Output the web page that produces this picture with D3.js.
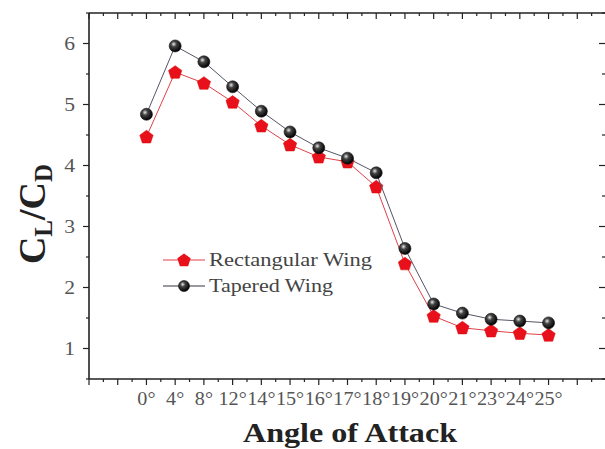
<!DOCTYPE html>
<html>
<head>
<meta charset="utf-8">
<script src="https://cdn.jsdelivr.net/npm/d3@7"></script>
<style>
  html, body { margin: 0; padding: 0; background: #fff; }
  svg { display: block; }
  text { font-family: "Liberation Serif", "Times New Roman", serif; }
</style>
</head>
<body>
<svg id="chart" width="605" height="449"></svg>
<script>
// Angles of attack (categorical, evenly spaced)
const angles = ["0°", "4°", "8°", "12°", "14°", "15°", "16°", "17°", "18°", "19°", "20°", "21°", "23°", "24°", "25°"];
// Lift-to-drag ratio per wing planform
const rectangular = [4.47, 5.53, 5.35, 5.04, 4.65, 4.34, 4.14, 4.06, 3.65, 2.39, 1.53, 1.34, 1.29, 1.25, 1.22];
const tapered     = [4.84, 5.96, 5.70, 5.29, 4.89, 4.55, 4.29, 4.12, 3.88, 2.64, 1.73, 1.58, 1.48, 1.45, 1.42];
const yTicks = [1, 2, 3, 4, 5, 6];
const seriesNames = ["Rectangular Wing", "Tapered Wing"];

const svg = d3.select("#chart");
const plotLeft = 89, plotRight = 606, plotTop = 13, plotBottom = 379;

// Category index on a linear scale, with two empty slots before the first angle
const x = d3.scaleLinear().domain([-2, 16]).range([plotLeft, plotRight]);
const y = d3.scaleLinear().domain([0.5, 6.5]).range([plotBottom, plotTop]);

const axisColor = "#222";
const majorX = d3.range(-2, 17, 1);
const minorX = d3.range(-1.5, 16, 1);
const majorY = d3.range(1, 7, 1);
const minorY = d3.range(0.5, 6.6, 1);

// Stretch a text element horizontally by a factor, keeping its anchor
function widen(sel, k) {
  sel.each(function () {
    const w = this.getComputedTextLength();
    d3.select(this).attr("textLength", w * k).attr("lengthAdjust", "spacingAndGlyphs");
  });
}

// Frame
const frame = svg.append("g").attr("stroke", axisColor).attr("stroke-width", 1.6).attr("fill", "none");
frame.append("line").attr("x1", plotLeft).attr("x2", plotLeft).attr("y1", plotTop).attr("y2", plotBottom);
frame.append("line").attr("x1", plotLeft).attr("x2", plotRight).attr("y1", plotBottom).attr("y2", plotBottom);
frame.append("line").attr("x1", plotLeft).attr("x2", plotRight).attr("y1", plotTop).attr("y2", plotTop);
frame.append("line").attr("x1", plotRight).attr("x2", plotRight).attr("y1", plotTop).attr("y2", plotBottom);

const ticks = svg.append("g").attr("stroke", axisColor).attr("stroke-width", 1.2);
// Bottom: outward
majorX.forEach(v => ticks.append("line").attr("x1", x(v)).attr("x2", x(v)).attr("y1", plotBottom).attr("y2", plotBottom + 6));
minorX.forEach(v => ticks.append("line").attr("x1", x(v)).attr("x2", x(v)).attr("y1", plotBottom).attr("y2", plotBottom + 3));
// Top: inward
majorX.forEach(v => ticks.append("line").attr("x1", x(v)).attr("x2", x(v)).attr("y1", plotTop).attr("y2", plotTop + 6));
minorX.forEach(v => ticks.append("line").attr("x1", x(v)).attr("x2", x(v)).attr("y1", plotTop).attr("y2", plotTop + 3));
// Left: outward
majorY.forEach(v => ticks.append("line").attr("x1", plotLeft - 6).attr("x2", plotLeft).attr("y1", y(v)).attr("y2", y(v)));
minorY.forEach(v => ticks.append("line").attr("x1", plotLeft - 3).attr("x2", plotLeft).attr("y1", y(v)).attr("y2", y(v)));
// Right: inward
majorY.forEach(v => ticks.append("line").attr("x1", plotRight - 7).attr("x2", plotRight).attr("y1", y(v)).attr("y2", y(v)));
minorY.forEach(v => ticks.append("line").attr("x1", plotRight - 4).attr("x2", plotRight).attr("y1", y(v)).attr("y2", y(v)));

// Tick labels
svg.append("g").selectAll("text").data(yTicks).join("text")
  .attr("x", plotLeft - 14).attr("y", d => y(d)).attr("dy", "0.35em")
  .attr("text-anchor", "end").attr("font-size", 18).attr("fill", "#555")
  .text(d => d)
  .call(widen, 1.2);

svg.append("g").selectAll("text").data(angles).join("text")
  .attr("x", (d, i) => x(i)).attr("y", 405)
  .attr("text-anchor", "middle").attr("font-size", 18).attr("fill", "#555")
  .text(d => d)
  .call(widen, 1.12);

// Axis titles
svg.append("text").attr("x", 350).attr("y", 442).attr("text-anchor", "middle")
  .attr("font-size", 28).attr("font-weight", "bold").attr("fill", "#222")
  .attr("textLength", 214).attr("lengthAdjust", "spacingAndGlyphs")
  .text("Angle of Attack");

const yl = svg.append("text").attr("transform", "translate(45,214) rotate(-90)")
  .attr("text-anchor", "middle").attr("font-size", 38).attr("font-weight", "bold").attr("fill", "#222");
yl.append("tspan").text("C");
yl.append("tspan").attr("font-size", 25).attr("dy", 7).text("L");
yl.append("tspan").attr("dy", -7).text("/C");
yl.append("tspan").attr("font-size", 25).attr("dy", 7).text("D");

// Shaded ball marker
const defs = svg.append("defs");
const grad = defs.append("radialGradient").attr("id", "ball").attr("cx", "0.38").attr("cy", "0.35").attr("r", "0.65");
grad.append("stop").attr("offset", "0").attr("stop-color", "#e8e8e8");
grad.append("stop").attr("offset", "0.35").attr("stop-color", "#444");
grad.append("stop").attr("offset", "1").attr("stop-color", "#000");

function pentPath(r) {
  const pts = d3.range(5).map(k => {
    const a = -Math.PI / 2 + k * 2 * Math.PI / 5;
    return [r * Math.cos(a), r * Math.sin(a)];
  });
  return d3.line()(pts) + "Z";
}

const line = d3.line().x((d, i) => x(i)).y(d => y(d));

function drawSeries(values, lineColor, kind) {
  svg.append("path").datum(values).attr("d", line)
    .attr("fill", "none").attr("stroke", lineColor).attr("stroke-width", 1);
  const g = svg.append("g");
  values.forEach((v, i) => {
    if (kind === "pent") {
      g.append("path").attr("d", pentPath(7)).attr("transform", `translate(${x(i)},${y(v) + 0.5})`)
        .attr("fill", "#e8101a").attr("stroke", "#d00").attr("stroke-width", 0.5);
    } else {
      g.append("circle").attr("cx", x(i)).attr("cy", y(v)).attr("r", 6)
        .attr("fill", "url(#ball)").attr("stroke", "#111").attr("stroke-width", 0.6);
    }
  });
}

drawSeries(rectangular, "#e04048", "pent");
drawSeries(tapered, "#556", "ball");

// Legend
const legend = svg.append("g");
const items = [
  { name: seriesNames[0], color: "#e04048", kind: "pent", y: 260, len: 163 },
  { name: seriesNames[1], color: "#334", kind: "ball", y: 286, len: 124 }
];
items.forEach(it => {
  legend.append("line").attr("x1", 163).attr("x2", 205).attr("y1", it.y).attr("y2", it.y)
    .attr("stroke", it.color).attr("stroke-width", 1);
  if (it.kind === "pent") {
    legend.append("path").attr("d", pentPath(7)).attr("transform", `translate(184,${it.y + 0.5})`)
      .attr("fill", "#e8101a");
  } else {
    legend.append("circle").attr("cx", 184).attr("cy", it.y).attr("r", 5.5)
      .attr("fill", "url(#ball)").attr("stroke", "#111").attr("stroke-width", 0.6);
  }
  legend.append("text").attr("x", 209).attr("y", it.y).attr("dy", "0.35em")
    .attr("font-size", 18).attr("fill", "#444")
    .attr("textLength", it.len).attr("lengthAdjust", "spacingAndGlyphs")
    .text(it.name);
});
</script>
</body>
</html>
